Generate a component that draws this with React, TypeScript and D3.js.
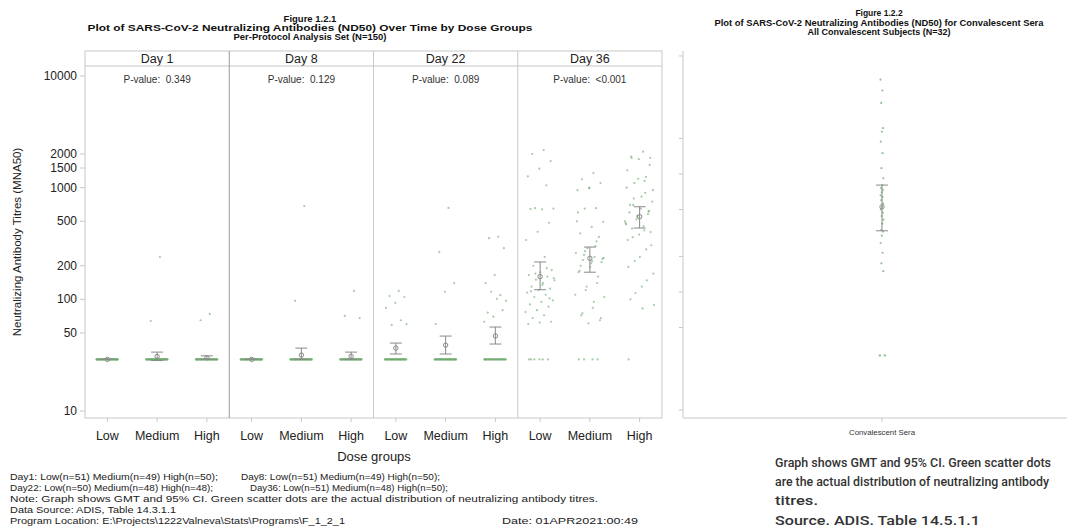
import React from 'react';
import * as d3 from 'd3';

// panels, groups and p-values
const days = ['Day 1', 'Day 8', 'Day 22', 'Day 36'];
const pValues = ['P-value:  0.349', 'P-value:  0.129', 'P-value:  0.089', 'P-value:  <0.001'];
const doses = ['Low', 'Medium', 'High'];
const lloq = 29;

// GMT and 95% CI per day (rows) and dose (cols)
const gmt = [[29, 30.8, 30], [29, 31.7, 30.9], [36.6, 38.9, 47], [160, 233, 550]];
const ciLow = [[29, 28.3, 29], [29, 29, 29], [32.4, 32.4, 39.8], [122, 175, 435]];
const ciHigh = [[29, 33.7, 31.2], [29, 36.6, 33.7], [40.6, 46.9, 56.5], [216, 294, 675]];

// number of subjects sitting at the LLOQ
const nAtLloq = [[51, 47, 48], [51, 47, 47], [42, 43, 35], [6, 4, 1]];

// titres above the LLOQ
const titres: number[][][] = [
  [[], [239, 64], [74, 65]],
  [[], [684, 97], [119, 71, 68]],
  [
    [119, 107, 105, 93, 84, 65, 59, 60],
    [658, 265, 140, 117, 60],
    [363, 353, 287, 165, 140, 109, 117, 97, 101, 76, 80, 70, 63],
  ],
  [
    [2173, 2000, 1730, 1480, 1260, 1050, 655, 650, 640, 645, 485, 402, 340, 240, 200, 183, 175, 165, 160, 150,
      148, 140, 130, 125, 121, 115, 110, 105, 98, 95, 90, 86, 80, 77, 72, 68, 63, 62, 60, 190, 170, 155, 135, 118, 102],
    [1350, 1190, 1100, 990, 950, 655, 650, 495, 445, 390, 362, 287, 260, 240, 225, 215, 195, 175, 140, 121, 105,
      84, 72, 65, 61, 500, 300, 250, 230, 210, 180, 160, 130, 110, 95, 75, 68, 1000, 600, 330, 270, 235, 220, 200],
    [2100, 1850, 1850, 1800, 1430, 1250, 1100, 950, 830, 700, 610, 550, 480, 415, 360, 305, 240, 195, 148, 114,
      89, 83, 1900, 1600, 1200, 1000, 900, 800, 750, 650, 600, 580, 520, 500, 450, 430, 400, 380, 340, 280, 220,
      170, 130, 100, 620, 560, 470, 1150, 700],
  ],
];

const leftTicks = [10, 50, 100, 200, 500, 1000, 1500, 2000, 10000];
const rightTicks = [10, 50, 100, 200, 500, 1000, 2000, 10000];

// convalescent sera (N=32)
const convCategory = 'Convalescent Sera';
const convTitres = [6300, 5100, 4000, 2450, 2280, 1880, 1500, 1120, 920, 805, 760, 730, 700, 660, 640, 600, 560,
  527, 500, 470, 440, 410, 380, 335, 325, 300, 260, 215, 175, 150];
const convAtLloq = 2;
const convGmt = 527;
const convCi = [330, 805];

const titleLeft = [
  'Figure 1.2.1',
  'Plot of SARS-CoV-2 Neutralizing Antibodies (ND50) Over Time by Dose Groups',
  'Per-Protocol Analysis Set (N=150)',
];
const titleRight = [
  'Figure 1.2.2',
  'Plot of SARS-CoV-2 Neutralizing Antibodies (ND50) for Convalescent Sera',
  'All Convalescent Subjects (N=32)',
];
const noteRight = [
  'Graph shows GMT and 95% CI. Green scatter dots',
  'are the actual distribution of neutralizing antibody',
  'titres.',
  'Source. ADIS. Table 14.5.1.1',
];

const SAS = "'Liberation Sans', Arial, sans-serif";
const DOT = '#6aa86a';
const BAR = '#8a8a8a';
const FRAME = '#c8c8c8';

// spread points sideways without randomness (golden-ratio sequence)
const jitter = (i: number, w: number) => ((((i * 0.618034) % 1) - 0.5) * 2 * w);

export default function App() {
  const yL = d3.scaleLog().domain([8.66, 12290]).range([418, 66]);
  const yR = d3.scaleLog().domain([8.55, 11020]).range([418, 51]);
  const panelX = d3.scaleBand<string>().domain(days).range([85, 662]);
  const doseX = d3.scalePoint<string>().domain(doses).range([0, panelX.bandwidth()]).padding(0.45);
  const convX = d3.scalePoint<string>().domain([convCategory]).range([683, 1081]).padding(0.5);

  const errorBar = (cx: number, g: number, lo: number, hi: number, y: d3.ScaleLogarithmic<number, number>, key: string) => (
    <g key={key} stroke={BAR} strokeWidth={1} fill="none">
      <line x1={cx} x2={cx} y1={y(lo)} y2={y(hi)} />
      <line x1={cx - 6} x2={cx + 6} y1={y(lo)} y2={y(lo)} />
      <line x1={cx - 6} x2={cx + 6} y1={y(hi)} y2={y(hi)} />
      <circle cx={cx} cy={y(g)} r={2.2} />
    </g>
  );

  return (
    <svg width={1067} height={532} style={{ position: 'absolute', left: 0, top: 0, background: '#fff' }}
      fontFamily={SAS}>
      <rect width={1067} height={532} fill="#fff" />

      {/* left figure titles */}
      <g fontWeight="bold" fontSize={9.5} textAnchor="middle" fill="#111">
        <text x={310} y={22}>{titleLeft[0]}</text>
        <text x={310} y={31} textLength={445} lengthAdjust="spacingAndGlyphs">{titleLeft[1]}</text>
        <text x={310} y={40}>{titleLeft[2]}</text>
      </g>

      {/* panels */}
      {days.map((day, di) => {
        const x0 = panelX(day)!;
        return (
          <g key={day}>
            <text x={x0 + panelX.bandwidth() / 2} y={63} textAnchor="middle" fontSize={12.5} fill="#222">{day}</text>
            <text x={x0 + panelX.bandwidth() / 2} y={83} textAnchor="middle" fontSize={10} fill="#333"
              style={{ whiteSpace: 'pre' }}>{pValues[di]}</text>
            {doses.map((dose, gi) => {
              const cx = x0 + doseX(dose)!;
              return (
                <g key={dose}>
                  {d3.range(nAtLloq[di][gi]).map(i => (
                    <circle key={'l' + i} cx={cx + jitter(i, 11)} cy={yL(lloq)} r={1.1} fill={DOT} opacity={0.6} />
                  ))}
                  {titres[di][gi].map((v, i) => (
                    <circle key={'v' + i} cx={cx + jitter(i + 1, di === 3 ? 15 : 12)} cy={yL(v)} r={1.1}
                      fill={DOT} opacity={0.6} />
                  ))}
                  {errorBar(cx, gmt[di][gi], ciLow[di][gi], ciHigh[di][gi], yL, 'e')}
                  <line x1={cx} x2={cx} y1={418} y2={422} stroke={FRAME} />
                  <text x={cx} y={440} textAnchor="middle" fontSize={12.5} fill="#222">{dose}</text>
                </g>
              );
            })}
          </g>
        );
      })}

      {/* panel frames */}
      <g fill="none" stroke={FRAME} strokeWidth={1}>
        <rect x={85} y={51} width={577} height={367} />
        <line x1={85} x2={662} y1={66} y2={66} />
        {days.slice(1).map(d => (
          <line key={d} x1={panelX(d)!} x2={panelX(d)!} y1={51} y2={418}
            stroke={d === 'Day 8' ? '#9a9a9a' : FRAME} />
        ))}
      </g>

      {/* left y axis */}
      <g fontSize={12} fill="#222" textAnchor="end">
        {leftTicks.map(t => (
          <g key={t}>
            <line x1={80} x2={85} y1={yL(t)} y2={yL(t)} stroke={FRAME} />
            <text x={77} y={yL(t) + 4}>{t}</text>
          </g>
        ))}
      </g>
      <text transform="translate(21,242) rotate(-90)" textAnchor="middle" fontSize={11.5} fill="#222">
        Neutralizing Antibody Titres (MNA50)
      </text>
      <text x={374} y={461} textAnchor="middle" fontSize={13} fill="#222">Dose groups</text>

      {/* footnotes */}
      <g fontSize={9} fill="#222">
        <text x={10} y={480} textLength={208} lengthAdjust="spacingAndGlyphs">Day1: Low(n=51) Medium(n=49) High(n=50);</text>
        <text x={241} y={480} textLength={199} lengthAdjust="spacingAndGlyphs">Day8: Low(n=51) Medium(n=49) High(n=50);</text>
        <text x={10} y={491} textLength={203} lengthAdjust="spacingAndGlyphs">Day22: Low(n=50) Medium(n=48) High(n=48);</text>
        <text x={250} y={491} textLength={198} lengthAdjust="spacingAndGlyphs">Day36: Low(n=51) Medium(n=48) High(n=50);</text>
        <text x={10} y={502} textLength={588} lengthAdjust="spacingAndGlyphs">Note: Graph shows GMT and 95% CI. Green scatter dots are the actual distribution of neutralizing antibody titres.</text>
        <text x={10} y={513} textLength={166} lengthAdjust="spacingAndGlyphs">Data Source: ADIS, Table 14.3.1.1</text>
        <text x={10} y={524} textLength={335} lengthAdjust="spacingAndGlyphs">{'Program Location: E:\\Projects\\1222Valneva\\Stats\\Programs\\F_1_2_1'}</text>
        <text x={502} y={524} textLength={136} lengthAdjust="spacingAndGlyphs">Date: 01APR2021:00:49</text>
      </g>

      {/* right figure */}
      <g fontWeight="bold" fontSize={8.5} textAnchor="middle" fill="#111">
        <text x={879} y={16}>{titleRight[0]}</text>
        <text x={879} y={26} textLength={329} lengthAdjust="spacingAndGlyphs">{titleRight[1]}</text>
        <text x={879} y={35} textLength={143} lengthAdjust="spacingAndGlyphs">{titleRight[2]}</text>
      </g>
      <g stroke={FRAME} fill="none">
        <line x1={683} x2={683} y1={51} y2={418} />
        <line x1={683} x2={1067} y1={418} y2={418} />
        {rightTicks.map(t => (
          <line key={t} x1={679} x2={683} y1={yR(t)} y2={yR(t)} />
        ))}
        <line x1={convX(convCategory)!} x2={convX(convCategory)!} y1={418} y2={422} />
      </g>
      {d3.range(convAtLloq).map(i => (
        <circle key={'cl' + i} cx={convX(convCategory)! + jitter(i + 2, 4)} cy={yR(lloq)} r={1.2} fill={DOT} opacity={0.7} />
      ))}
      {convTitres.map((v, i) => (
        <circle key={'c' + i} cx={convX(convCategory)! + jitter(i, 1.5)} cy={yR(v)} r={1.1} fill={DOT} opacity={0.7} />
      ))}
      {errorBar(convX(convCategory)!, convGmt, convCi[0], convCi[1], yR, 'conv')}
      <text x={convX(convCategory)!} y={435} textAnchor="middle" fontSize={7.5} fill="#333"
        textLength={66} lengthAdjust="spacingAndGlyphs">{convCategory}</text>

      <g fontFamily="Roboto, 'Noto Sans', sans-serif" fontWeight={500} fontSize={12} fill="#333">
        <text x={775} y={467} textLength={276} lengthAdjust="spacingAndGlyphs">{noteRight[0]}</text>
        <text x={775} y={486} textLength={274} lengthAdjust="spacingAndGlyphs">{noteRight[1]}</text>
        <text x={775} y={505} textLength={43} lengthAdjust="spacingAndGlyphs">{noteRight[2]}</text>
        <text x={775} y={525} textLength={205} lengthAdjust="spacingAndGlyphs">{noteRight[3]}</text>
      </g>
    </svg>
  );
}
